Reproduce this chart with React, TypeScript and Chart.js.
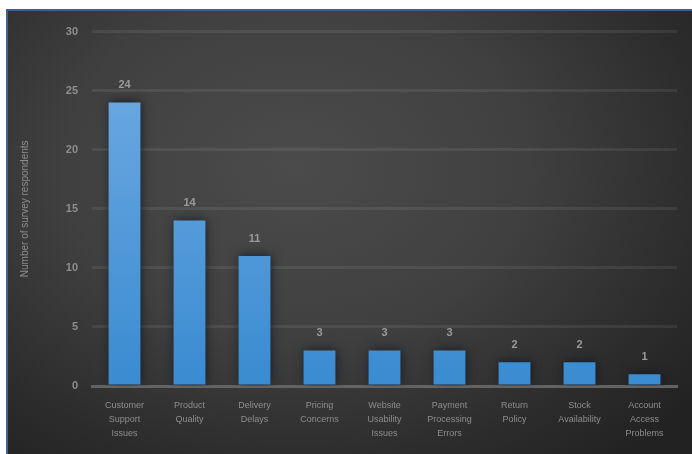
import React, { useEffect, useRef } from "react";
import { Chart, registerables } from "chart.js";

Chart.register(...registerables);

const categories: string[][] = [
  ["Customer", "Support", "Issues"],
  ["Product", "Quality"],
  ["Delivery", "Delays"],
  ["Pricing", "Concerns"],
  ["Website", "Usability", "Issues"],
  ["Payment", "Processing", "Errors"],
  ["Return", "Policy"],
  ["Stock", "Availability"],
  ["Account", "Access", "Problems"],
];
const values: number[] = [24, 14, 11, 3, 3, 3, 2, 2, 1];
const yTicks: number[] = [0, 5, 10, 15, 20, 25, 30];
const yTitle = "Number of survey respondents";

const FONT = "'Liberation Sans', Arial, sans-serif";

const shadowPlugin = {
  id: "barShadow",
  beforeDatasetDraw(chart: any) {
    const ctx = chart.ctx;
    ctx.save();
    ctx.shadowColor = "rgba(15,22,32,0.85)";
    ctx.shadowBlur = 10;
    ctx.shadowOffsetX = 1;
    ctx.shadowOffsetY = -1;
  },
  afterDatasetDraw(chart: any) {
    chart.ctx.restore();
  },
};

const valueLabelPlugin = {
  id: "valueLabels",
  afterDatasetsDraw(chart: any) {
    const ctx = chart.ctx;
    const meta = chart.getDatasetMeta(0);
    ctx.save();
    ctx.font = `bold 11px ${FONT}`;
    ctx.fillStyle = "#9a9a9a";
    ctx.textAlign = "center";
    ctx.textBaseline = "bottom";
    meta.data.forEach((bar: any, i: number) => {
      ctx.fillText(String(values[i]), bar.x, bar.y - 12);
    });
    ctx.restore();
  },
};

export default function App() {
  const ref = useRef<HTMLCanvasElement | null>(null);

  useEffect(() => {
    document.body.style.margin = "0";
    const canvas = ref.current!;
    const chart = new Chart(canvas, {
      type: "bar",
      data: {
        labels: categories,
        datasets: [
          {
            data: values,
            backgroundColor: (c: any) => {
              const area = c.chart.chartArea;
              if (!area) return "#4f9ad9";
              const g = c.chart.ctx.createLinearGradient(0, area.top, 0, area.bottom);
              g.addColorStop(0, "#73ade3");
              g.addColorStop(1, "#3a8bd1");
              return g;
            },
            borderWidth: 0,
            categoryPercentage: 0.98,
            barPercentage: 0.5,
          },
        ],
      },
      options: {
        animation: false,
        responsive: false,
        maintainAspectRatio: false,
        layout: { padding: { left: 7, right: 15, top: 20, bottom: 0 } },
        plugins: {
          legend: { display: false },
          tooltip: { enabled: false },
        },
        scales: {
          x: {
            grid: { display: false, drawTicks: false },
            border: { display: true, color: "#636363", width: 3 },
            ticks: {
              color: "#8e8e8e",
              font: { family: FONT, size: 9, lineHeight: 1.6 },
              padding: 12,
              maxRotation: 0,
              autoSkip: false,
            },
            afterFit: (s: any) => {
              s.height = 68;
            },
          },
          y: {
            min: 0,
            max: 30,
            afterBuildTicks: (s: any) => {
              s.ticks = yTicks.map((v) => ({ value: v }));
            },
            grid: { color: "rgba(255,255,255,0.075)", lineWidth: 3, drawTicks: false },
            border: { display: false },
            ticks: {
              color: "#8e8e8e",
              font: { family: FONT, size: 11, weight: "bold" },
              padding: 14,
            },
            title: {
              display: true,
              text: yTitle,
              color: "#8e8e8e",
              font: { family: FONT, size: 10 },
              padding: { top: 4, bottom: 0 },
            },
            afterFit: (s: any) => {
              s.width = 77;
            },
          },
        },
      },
      plugins: [shadowPlugin, valueLabelPlugin],
    } as any);
    return () => chart.destroy();
  }, []);

  return (
    <div
      style={{
        position: "absolute",
        left: 6,
        top: 9,
        width: 684,
        height: 443,
        borderTop: "2px solid #3d5f9e",
        borderLeft: "2px solid #3d5f9e",
        background:
          "radial-gradient(ellipse 75% 85% at 42% 35%, #4b4b4b 0%, #404040 45%, #2c2c2c 80%, #222222 100%)",
      }}
    >
      <canvas ref={ref} width={684} height={443} style={{ display: "block" }} />
    </div>
  );
}
